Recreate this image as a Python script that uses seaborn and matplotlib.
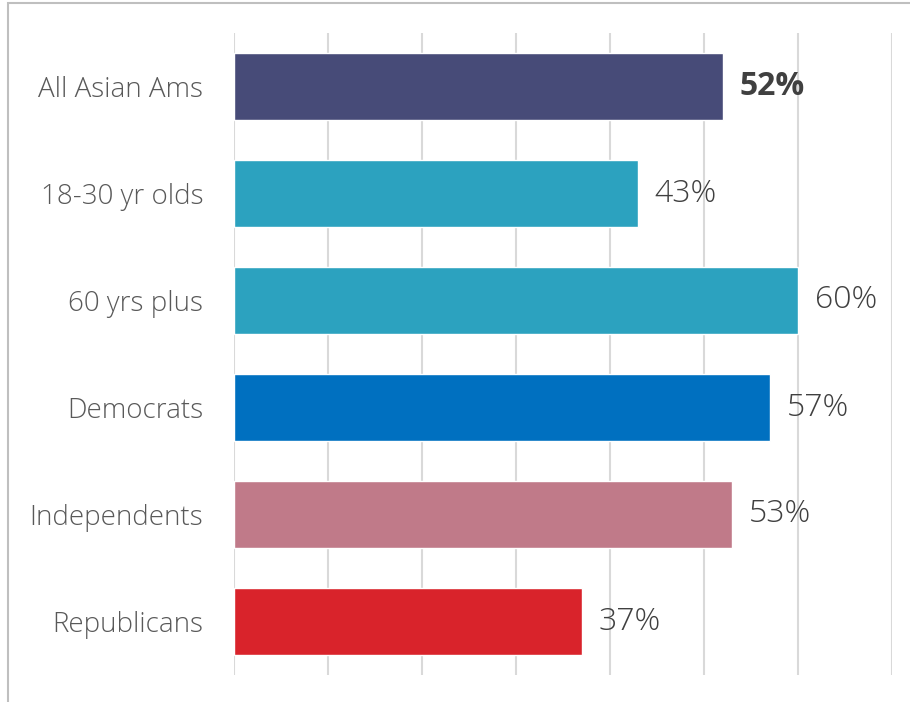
import numpy as np
import pandas as pd
import matplotlib

matplotlib.use("Agg")
import matplotlib.pyplot as plt
import seaborn as sns
from matplotlib.patches import Rectangle

groups = ["All Asian Ams", "18-30 yr olds", "60 yrs plus", "Democrats", "Independents", "Republicans"]
shares = [52, 43, 60, 57, 53, 37]
colors = ["#474B78", "#2CA2BF", "#2CA2BF", "#0070C0", "#C07A89", "#D9232B"]

df = pd.DataFrame({"group": groups, "share": shares})

sns.set_style("white")
plt.rcParams["font.family"] = ["Open Sans", "DejaVu Sans"]

fig = plt.figure(figsize=(9.1, 7.02), dpi=100)
ax = fig.add_axes([234 / 910, 27 / 702, 658 / 910, 642 / 702])

sns.barplot(data=df, x="share", y="group", hue="group", palette=colors,
            legend=False, orient="h", width=0.63, saturation=1, ax=ax)

ax.set_xlim(0, 70)
ax.set_ylim(5.5, -0.5)
ax.set_xticks(np.arange(0, 71, 10))
ax.xaxis.grid(True, color="#D9D9D9", linewidth=1.5)
ax.set_axisbelow(True)
ax.tick_params(axis="x", bottom=False, labelbottom=False)
ax.tick_params(axis="y", left=False, length=0, pad=22, labelsize=20, labelcolor="#595959")
for lbl in ax.get_yticklabels():
    lbl.set_fontweight("light")
for s in ax.spines.values():
    s.set_visible(False)
ax.set_xlabel("")
ax.set_ylabel("")

for i, v in enumerate(shares):
    ax.annotate(f"{v}%", (v, i), xytext=(12, 0), textcoords="offset points",
                va="center", ha="left", fontsize=23, color="#404040",
                fontweight="bold" if i == 0 else "light")

# outer frame (cut off at right and bottom like the source)
fig.patches.append(Rectangle((8 / 910, -0.1), 1.2, 1.1 - 3 / 702,
                             transform=fig.transFigure, fill=False,
                             edgecolor="#BFBFBF", linewidth=1.5))

fig.savefig("out.png", dpi=100)
